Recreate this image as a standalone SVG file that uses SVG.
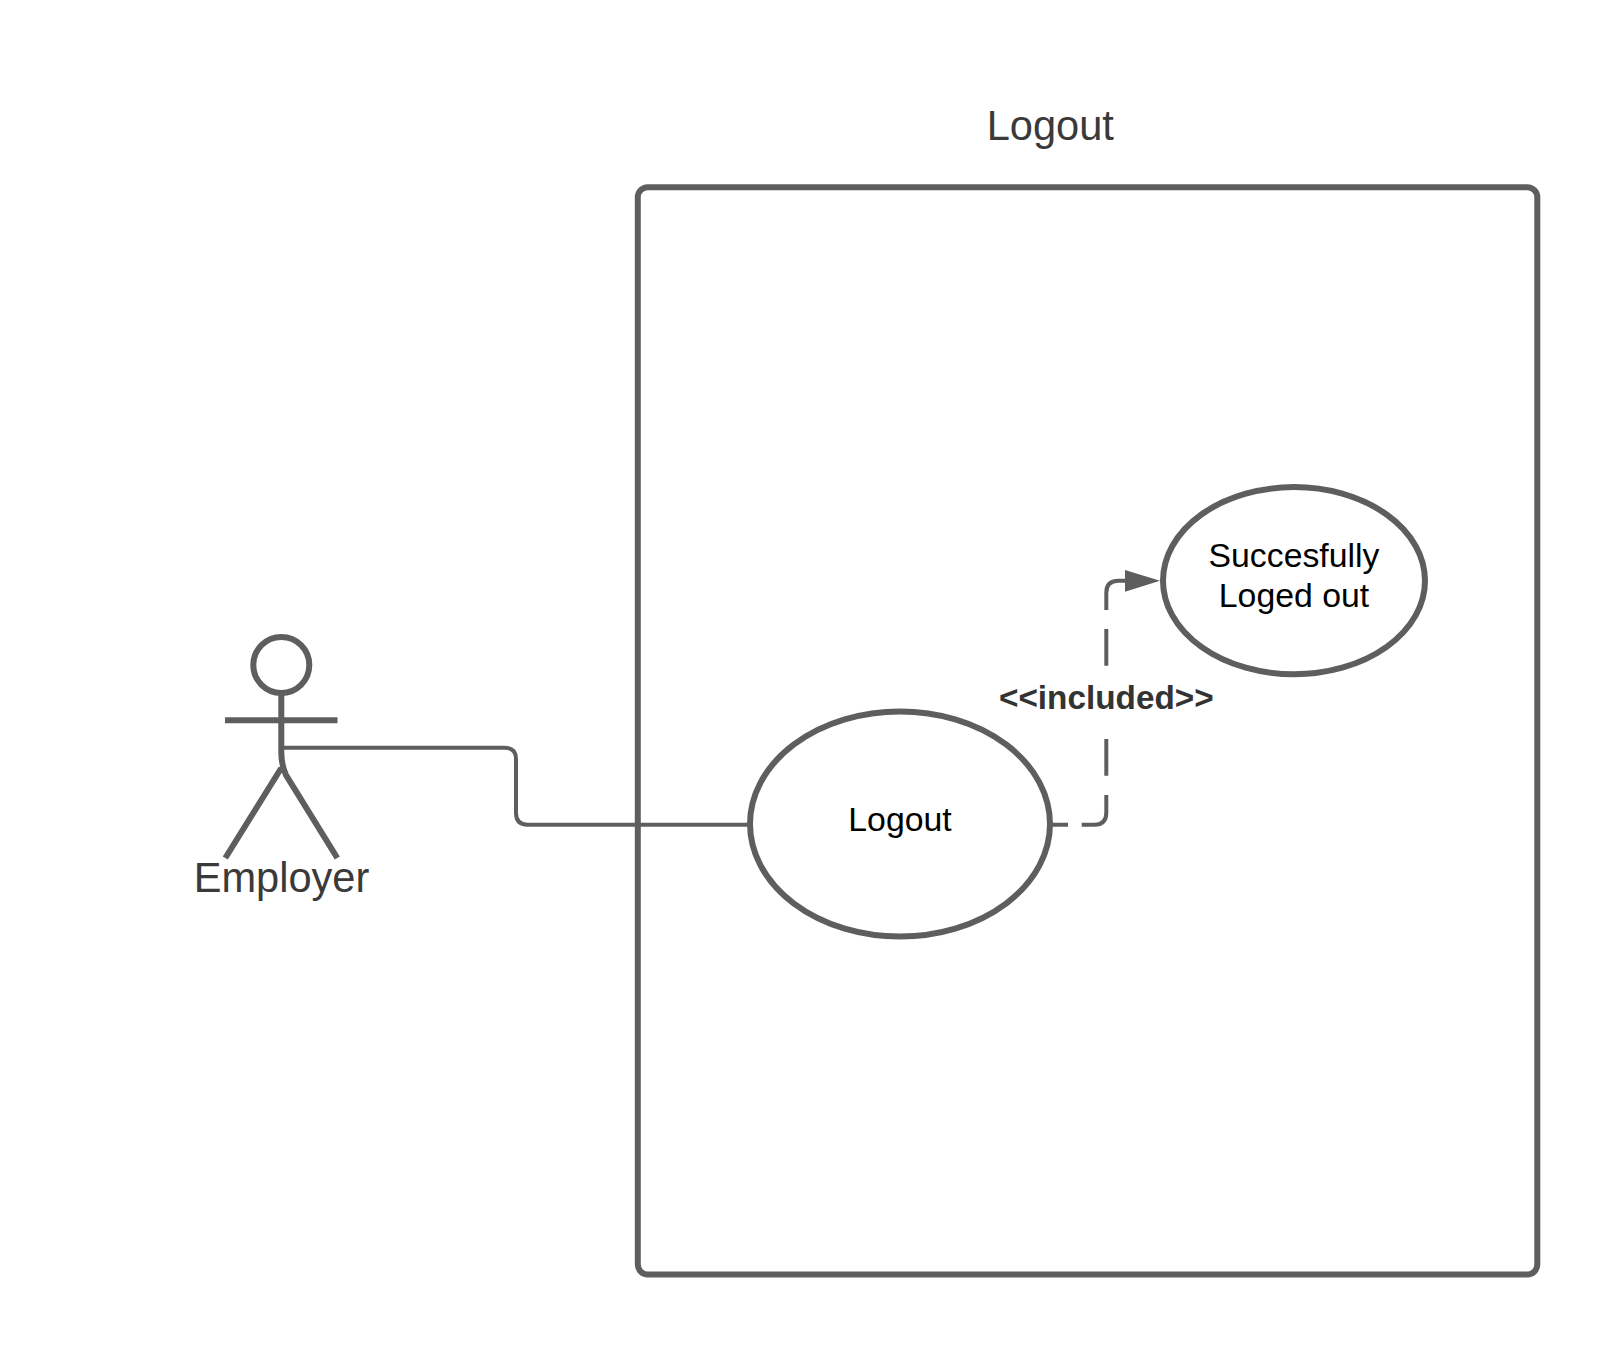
<svg xmlns="http://www.w3.org/2000/svg" width="1613" height="1350" viewBox="0 0 1613 1350">
<style>
.s{fill:none;stroke:#5e5e5e;stroke-width:6}
.e{fill:#fff;stroke:#5e5e5e;stroke-width:6}
.c{fill:none;stroke:#5e5e5e;stroke-width:4}
text{font-family:"Liberation Sans",Arial,sans-serif;text-anchor:middle}
.t{font-size:41.6px;fill:#3a3a3a}
.u{font-size:33.8px;fill:#000}
.b{font-size:33.3px;font-weight:bold;fill:#333}
</style>
<rect width="1613" height="1350" fill="#fff"/>
<g id="system">
<rect class="s" x="637.800" y="187.200" width="899.500" height="1087.300" rx="10"/>
<text class="t" x="1050.300" y="139.800">Logout</text>
</g>
<g id="connectors">
<path class="c" d="M281 747.700H504.500Q516 747.700 516 759V813Q516 824.700 527.500 824.700H750"/>
<path class="c" d="M1052 824.700H1068M1081.700 824.700H1094.300Q1106.300 824.700 1106.300 812.700V795M1106.300 775.700V739M1106.300 665.700V629M1106.300 610V592.700Q1106.300 580.700 1118.300 580.700H1128"/>
<path d="M1125 570L1160 580.700L1125 591.700Z" fill="#5e5e5e"/>
<text class="b" x="1106.300" y="709">&lt;&lt;included&gt;&gt;</text>
</g>
<g id="actor">
<ellipse class="s" cx="281.300" cy="665" rx="28" ry="28"/>
<path class="s" d="M281.300 693V752Q281.300 765 286 775L337.300 858M225 720.300H337.500M281.300 768L225.300 858"/>
<text class="t" x="281.500" y="891.700">Employer</text>
</g>
<g id="usecase-logout">
<ellipse class="e" cx="900" cy="824" rx="150" ry="112.500"/>
<text class="u" x="900" y="831">Logout</text>
</g>
<g id="usecase-success">
<ellipse class="e" cx="1294" cy="580.700" rx="131" ry="93.600"/>
<text class="u" x="1294" y="566.700">Succesfully</text>
<text class="u" x="1294" y="607.300">Loged out</text>
</g>
</svg>
